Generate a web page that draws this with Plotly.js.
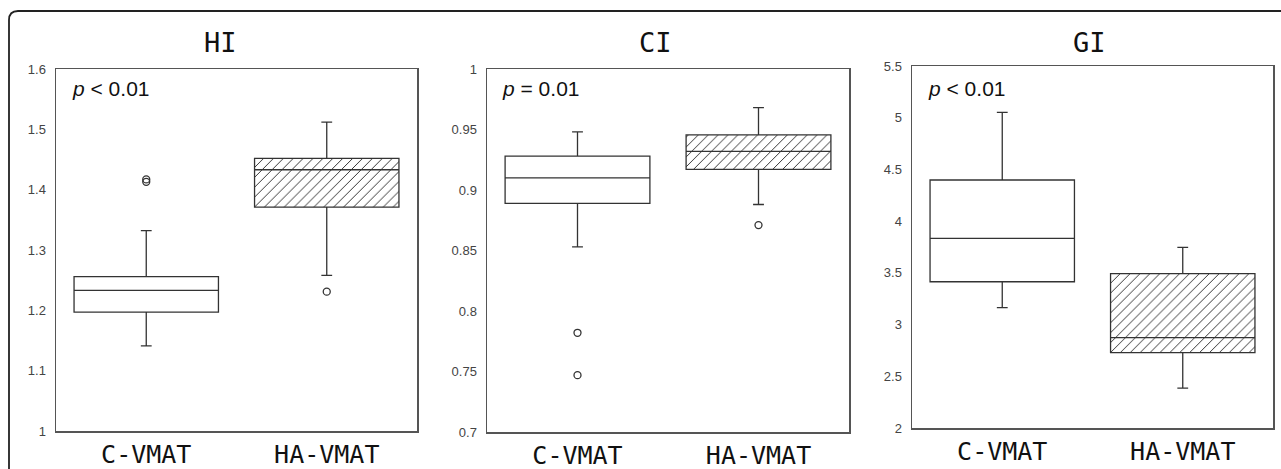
<!DOCTYPE html>
<html>
<head>
<meta charset="utf-8">
<script src="https://cdn.plot.ly/plotly-3.0.1.min.js"></script>
<style>html,body{margin:0;padding:0;background:#fff;}#chart{width:1281px;height:469px;}</style>
</head>
<body>
<div id="chart"></div>
<script>
// ---- data ----
const categories = ['C-VMAT', 'HA-VMAT'];
const panelTitles = ['HI', 'CI', 'GI'];
const pTexts = ['<i>p</i> < 0.01', '<i>p</i> = 0.01', '<i>p</i> < 0.01'];

// HI
const hiQ1 = [1.197, 1.371];
const hiMedian = [1.233, 1.433];
const hiQ3 = [1.256, 1.452];
const hiLower = [1.141, 1.258];
const hiUpper = [1.332, 1.512];
const hiOutX = ['C-VMAT', 'C-VMAT', 'HA-VMAT'];
const hiOutY = [1.413, 1.417, 1.231];

// CI
const ciQ1 = [0.889, 0.917];
const ciMedian = [0.910, 0.932];
const ciQ3 = [0.928, 0.9455];
const ciLower = [0.853, 0.888];
const ciUpper = [0.948, 0.968];
const ciOutX = ['C-VMAT', 'C-VMAT', 'HA-VMAT'];
const ciOutY = [0.782, 0.747, 0.871];

// GI
const giQ1 = [3.414, 2.728];
const giMedian = [3.833, 2.873];
const giQ3 = [4.398, 3.492];
const giLower = [3.163, 2.386];
const giUpper = [5.052, 3.746];
const giOutX = [];
const giOutY = [];

// y axis ranges / tick steps
const yRanges = [[1, 1.6], [0.7, 1.0], [2, 5.5]];
const yDticks = [0.1, 0.05, 0.5];

// ---- layout geometry (pixels) ----
const W = 1281, H = 469;
const panelsPx = [
  {x0: 56, x1: 417, y0: 69, y1: 431, titleX: 220, pX: 70},
  {x0: 487, x1: 849, y0: 69, y1: 432, titleX: 655, pX: 500},
  {x0: 912, x1: 1273, y0: 66, y1: 428, titleX: 1089, pX: 926}
];
const px = v => v / W;
const py = v => 1 - v / H;

const stats = [
  {q1: hiQ1, med: hiMedian, q3: hiQ3, lo: hiLower, hi: hiUpper, ox: hiOutX, oy: hiOutY},
  {q1: ciQ1, med: ciMedian, q3: ciQ3, lo: ciLower, hi: ciUpper, ox: ciOutX, oy: ciOutY},
  {q1: giQ1, med: giMedian, q3: giQ3, lo: giLower, hi: giUpper, ox: giOutX, oy: giOutY}
];

const lineCol = '#333';
const traces = [];
const layout = {
  width: W, height: H,
  margin: {l: 0, r: 0, t: 0, b: 0},
  paper_bgcolor: '#fff', plot_bgcolor: '#fff',
  showlegend: false,
  barmode: 'overlay',
  annotations: [],
  shapes: []
};

stats.forEach((s, i) => {
  const n = i === 0 ? '' : String(i + 1);
  const xa = 'x' + n, ya = 'y' + n;
  // hatched fill for HA-VMAT box
  traces.push({
    type: 'bar', xaxis: xa, yaxis: ya,
    x: [categories[1]],
    y: [s.q3[1] - s.q1[1]],
    base: [s.q1[1]],
    width: 0.8,
    marker: {
      color: '#fff',
      line: {width: 0},
      pattern: {shape: '/', size: 7, solidity: 0.14, fgcolor: '#333', bgcolor: '#fff'}
    },
    hoverinfo: 'skip'
  });
  traces.push({
    type: 'box', xaxis: xa, yaxis: ya,
    x: categories,
    q1: s.q1, median: s.med, q3: s.q3,
    lowerfence: s.lo, upperfence: s.hi,
    width: 0.8,
    whiskerwidth: 0.075,
    fillcolor: 'rgba(0,0,0,0)',
    line: {color: lineCol, width: 1.3},
    boxpoints: false
  });
  if (s.oy.length) {
    traces.push({
      type: 'scatter', mode: 'markers', xaxis: xa, yaxis: ya,
      x: s.ox, y: s.oy,
      marker: {symbol: 'circle-open', size: 7, color: lineCol, line: {width: 1.3, color: lineCol}}
    });
  }
  const p = panelsPx[i];
  layout['xaxis' + n] = {
    domain: [px(p.x0), px(p.x1)],
    anchor: ya,
    type: 'category',
    categoryorder: 'array', categoryarray: categories,
    range: [-0.5, 1.5],
    showline: true, mirror: true, linecolor: '#555', linewidth: 1.5,
    showgrid: false, zeroline: false, ticks: '',
    ticklabelstandoff: 0,
    tickfont: {family: 'DejaVu Sans Mono', size: 25, color: '#111'},
    fixedrange: true
  };
  layout['yaxis' + n] = {
    domain: [py(p.y1), py(p.y0)],
    anchor: xa,
    range: yRanges[i],
    dtick: yDticks[i],
    tick0: yRanges[i][0],
    showline: true, mirror: true, linecolor: '#555', linewidth: 1.5,
    showgrid: false, zeroline: false, ticks: '',
    ticklabelstandoff: 6,
    tickfont: {family: 'Liberation Sans', size: 13, color: '#444'},
    fixedrange: true
  };
  layout.annotations.push({
    xref: 'paper', yref: 'paper', x: px(p.titleX), y: py(43),
    xanchor: 'center', yanchor: 'middle', showarrow: false,
    text: panelTitles[i],
    font: {family: 'DejaVu Sans Mono', size: 27, color: '#111'}
  });
  layout.annotations.push({
    xref: 'paper', yref: 'paper', x: px(p.pX), y: py(88),
    xanchor: 'left', yanchor: 'middle', showarrow: false,
    text: pTexts[i],
    font: {family: 'Liberation Sans', size: 21, color: '#111'}
  });
});

// outer rounded frame (top-left corner)
layout.shapes.push({
  type: 'path', xref: 'paper', yref: 'paper',
  path: `M ${px(9)},${py(469)} L ${px(9)},${py(20)} Q ${px(9)},${py(11)} ${px(18)},${py(11)} L ${px(1281)},${py(11)}`,
  line: {color: '#222', width: 1.8}
});

Plotly.newPlot('chart', traces, layout, {displayModeBar: false, staticPlot: true});
</script>
</body>
</html>
